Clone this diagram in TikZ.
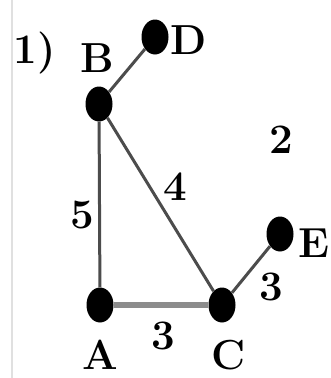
\documentclass[tikz,border=0pt]{standalone}
\usetikzlibrary{shapes.geometric}
\begin{document}
\begin{tikzpicture}[x=1pt,y=-1pt,
  vtx/.style={ellipse,fill=black,draw=none,inner sep=0pt,minimum width=27pt,minimum height=35pt},
  lbl/.style={inner sep=0pt,font=\fontsize{42}{42}\selectfont\bfseries},
  edge/.style={draw=black!70,line width=3pt},
  thick edge/.style={draw=black!45,line width=5.5pt}]
\useasboundingbox[fill=white] (0,0) rectangle (331,378);
\draw[black!12,line width=2pt] (12,0) -- (12,378);
\node[vtx] (B) at (99,104) {};
\node[vtx] (D) at (155,37) {};
\node[vtx] (A) at (100,305) {};
\node[vtx] (C) at (222,305) {};
\node[vtx] (E) at (280,234) {};
\draw[edge] (B) -- (D);
\draw[edge] (B) -- (A);
\draw[edge] (B) -- (C);
\draw[edge] (C) -- (E);
\draw[thick edge] (A) -- (C);
\node[lbl] (one) at (35,53) {1)};
\node[lbl] (lB) at (97,58) {B};
\node[lbl] (lD) at (189,40) {D};
\node[lbl] (two) at (281,140) {2};
\node[lbl] (four) at (175,187) {4};
\node[lbl] (five) at (82,215) {5};
\node[lbl] (lE) at (314,243) {E};
\node[lbl] (threeCE) at (271,287) {3};
\node[lbl] (threeAC) at (163,336) {3};
\node[lbl] (lA) at (100,355) {A};
\node[lbl] (lC) at (229,355) {C};
\end{tikzpicture}
\end{document}
